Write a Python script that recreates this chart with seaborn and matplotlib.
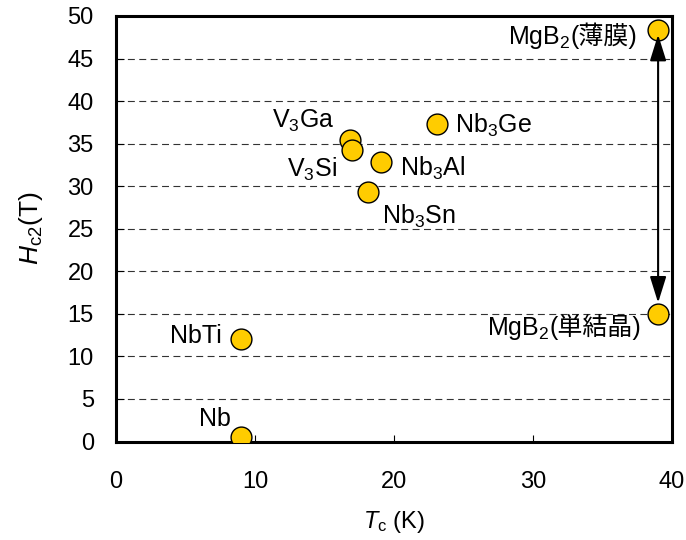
import matplotlib
matplotlib.use("Agg")
import matplotlib.pyplot as plt
import seaborn as sns
import pandas as pd

materials = ["Nb", "NbTi", "V$_3$Ga", "V$_3$Si", "Nb$_3$Al", "Nb$_3$Sn", "Nb$_3$Ge",
             "MgB$_2$", "MgB$_2$"]
material_suffix = ["", "", "", "", "", "", "", "(薄膜)", "(単結晶)"]
tc_values = [9.0, 9.0, 16.8, 17.0, 19.1, 18.15, 23.1, 39.0, 39.0]
hc2_values = [0.5, 12.1, 35.4, 34.3, 32.8, 29.3, 37.35, 48.3, 15.0]
x_ticks = [0, 10, 20, 30, 40]
y_ticks = [0, 5, 10, 15, 20, 25, 30, 35, 40, 45, 50]

# label offsets in pixels (dx, dy to baseline, ha)
label_offsets = [
    (-10, 11, "right"),
    (-19, -4, "right"),
    (-15, 12, "right"),
    (-15, -27, "right"),
    (19, -13, "left"),
    (14, -32, "left"),
    (18, -9, "left"),
    (-21, -14, "right"),
    (-17, -21, "right"),
]

sns.set_style("ticks")
fam = ["Liberation Sans", "Noto Sans CJK JP", "DejaVu Sans"]
plt.rcParams["font.family"] = fam
plt.rcParams["mathtext.fontset"] = "custom"
plt.rcParams["mathtext.rm"] = "Liberation Sans"
plt.rcParams["mathtext.it"] = "Liberation Sans:italic"
plt.rcParams["lines.scale_dashes"] = False
plt.rcParams["text.color"] = "black"
plt.rcParams["axes.labelcolor"] = "black"
plt.rcParams["xtick.color"] = "black"
plt.rcParams["ytick.color"] = "black"

df = pd.DataFrame({"material": materials, "Tc": tc_values, "Hc2": hc2_values})

fig = plt.figure(figsize=(6.86, 5.40), dpi=100)
ax = fig.add_axes([116 / 686, 1 - 441.5 / 540, 556 / 686, 425.5 / 540])

sns.scatterplot(data=df, x="Tc", y="Hc2", ax=ax, s=225, color="#FFCC00",
                edgecolor="black", linewidth=1.0, zorder=3, legend=False)

ax.set_xlim(0, 40)
ax.set_ylim(0, 50)
ax.set_xticks(x_ticks)
ax.set_yticks(y_ticks)
ax.yaxis.grid(True, color="#333333", linestyle=(0, (5, 3.2)), linewidth=0.8)
ax.set_axisbelow(True)

for s in ax.spines.values():
    s.set_linewidth(2.2)
    s.set_color("black")
    s.set_visible(True)

ax.tick_params(axis="y", direction="in", length=6, width=0.8, labelsize=17, pad=16,
               colors="black")
ax.tick_params(axis="x", direction="in", length=5, width=0.8, labelsize=17, pad=21,
               colors="black")

ax.set_xlabel(r"$T_\mathrm{c}$ (K)", fontsize=17, labelpad=12, color="black")
ax.set_ylabel(r"$H_\mathrm{c2}$(T)", fontsize=19, labelpad=16, color="black")

renderer = fig.canvas.get_renderer()
FS = 18
for name, suffix, x, y, (dx, dy, ha) in zip(materials, material_suffix, tc_values,
                                            hc2_values, label_offsets):
    shift = 0
    if suffix:
        t = ax.annotate(suffix, (x, y), xytext=(dx, dy), textcoords="offset pixels",
                        ha=ha, va="baseline", fontsize=FS, family=fam, zorder=4,
                        color="black")
        shift = t.get_window_extent(renderer).width
    ax.annotate(name, (x, y), xytext=(dx - shift, dy), textcoords="offset pixels",
                ha=ha, va="baseline", fontsize=FS, family=fam, zorder=4, color="black")

# double arrow between the two MgB2 points
ax.annotate("", xy=(tc_values[7], hc2_values[7]), xytext=(tc_values[8], hc2_values[8]),
            arrowprops=dict(arrowstyle="<|-|>,head_length=0.8,head_width=0.25",
                            mutation_scale=20, color="black", lw=1.5,
                            shrinkA=8, shrinkB=3),
            zorder=5)

fig.savefig("out.png", dpi=100)
